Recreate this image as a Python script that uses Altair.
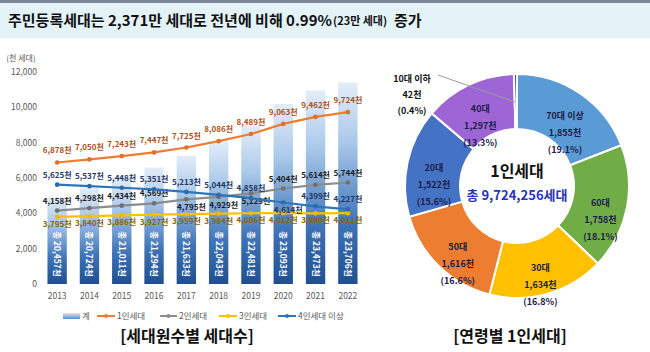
import altair as alt
import pandas as pd

FONT = "Noto Sans CJK KR"

# ---------------- data ----------------
years = ["2013", "2014", "2015", "2016", "2017", "2018", "2019", "2020", "2021", "2022"]
total_households = [20457, 20724, 21011, 21294, 21633, 22043, 22481, 23093, 23473, 23706]
one_person = [6878, 7050, 7243, 7447, 7725, 8086, 8489, 9063, 9462, 9724]
two_person = [4158, 4298, 4434, 4569, 4795, 4929, 5129, 5404, 5614, 5744]
three_person = [3795, 3840, 3886, 3927, 3959, 3984, 4006, 4012, 3999, 4011]
four_plus = [5625, 5537, 5448, 5351, 5213, 5044, 4858, 4614, 4399, 4227]
y_ticks = [0, 2000, 4000, 6000, 8000, 10000, 12000]
series_names = ["계", "1인세대", "2인세대", "3인세대", "4인세대 이상"]

age_groups = ["70대 이상", "60대", "30대", "50대", "20대", "40대", "10대 이하"]
age_values = [1855, 1758, 1634, 1616, 1522, 1297, 42]
age_pct = [19.1, 18.1, 16.8, 16.6, 15.6, 13.3, 0.4]
one_person_total = 9724256

# ---------------- layout / style ----------------
W, H = 650, 352
X0, X1 = 41, 364
YB, YT = 284, 72
CX, CY = 517, 186

ORANGE, GRAY, GOLD, BLUE = "#ED7D31", "#8C8C8C", "#FFC000", "#2E75B6"
age_colors = ["#5B9BD5", "#70AD47", "#FFC000", "#ED7D31", "#4472C4", "#9E66D4", "#3B4A63"]

bar_grad = alt.Gradient(
    gradient="linear",
    stops=[alt.GradientStop(color="#e3edf8", offset=0),
           alt.GradientStop(color="#a9c8ea", offset=0.3),
           alt.GradientStop(color="#3f74b8", offset=0.7),
           alt.GradientStop(color="#1f4f8f", offset=1)],
    x1=1, x2=1, y1=0, y2=1)
legend_grad = alt.Gradient(
    gradient="linear",
    stops=[alt.GradientStop(color="#dbe7f5", offset=0),
           alt.GradientStop(color="#5b8fcf", offset=1)],
    x1=1, x2=1, y1=0, y2=1)

xs = alt.Scale(domain=years, range=[X0, X1], paddingInner=0.4, paddingOuter=0.2)
ys = alt.Scale(domain=[0, 12000], range=[YB, YT])
ys_total = alt.Scale(domain=[18000, 24000], range=[YB, YT])

df = pd.DataFrame({
    "year": years, "total": total_households, "one": one_person,
    "two": two_person, "three": three_person, "four": four_plus,
})
for c in ["one", "two", "three", "four"]:
    df[c + "_label"] = [f"{v:,}천" for v in df[c]]
df["total_label"] = [f"총 {v:,}천" for v in df["total"]]
gap = df["two"] - df["four"]
df["two_below"] = gap.abs() < 450
df["four_below"] = (gap > 500) & (gap < 1000)

X = alt.X("year:N", scale=xs, axis=None)

layers = []

# title band
layers.append(alt.Chart().mark_rect(color="#e4f3f8").encode(
    x=alt.value(0), x2=alt.value(W), y=alt.value(3), y2=alt.value(38)))
layers.append(alt.Chart().mark_rect(color="#7b8794").encode(
    x=alt.value(0), x2=alt.value(W), y=alt.value(0), y2=alt.value(3)))
title_style = dict(font=FONT, fontWeight="bold", color="#111111", align="left", baseline="middle")
layers.append(alt.Chart().mark_text(fontSize=15, **title_style).encode(
    x=alt.value(8), y=alt.value(21), text=alt.value("주민등록세대는 2,371만 세대로 전년에 비해 0.99%")))
layers.append(alt.Chart().mark_text(fontSize=11, **title_style).encode(
    x=alt.value(333), y=alt.value(22), text=alt.value("(23만 세대)")))
layers.append(alt.Chart().mark_text(fontSize=15, **title_style).encode(
    x=alt.value(394), y=alt.value(21), text=alt.value("증가")))

# bars (total households, secondary hidden axis)
layers.append(alt.Chart(df).mark_bar(color=bar_grad).encode(
    x=X, y=alt.Y("total:Q", scale=ys_total, axis=None), y2=alt.datum(18000)))
layers.append(alt.Chart(df).mark_text(
    angle=90, font=FONT, fontWeight="bold", fontSize=8.5, color="white",
    align="center", baseline="middle").encode(
    x=X, y=alt.value(254), text="total_label:N"))

# y tick labels and unit
ytdf = pd.DataFrame({"v": y_ticks})
layers.append(alt.Chart(ytdf).mark_text(
    font=FONT, fontSize=8.5, color="#595959", align="right", baseline="middle").encode(
    x=alt.value(37), y=alt.Y("v:Q", scale=ys, axis=None), text=alt.Text("v:Q", format=",")))
layers.append(alt.Chart().mark_text(
    font=FONT, fontSize=8, color="#595959", align="center", baseline="middle").encode(
    x=alt.value(21), y=alt.value(59), text=alt.value("(천 세대)")))
# year labels
layers.append(alt.Chart(df).mark_text(
    font=FONT, fontSize=8.5, color="#595959", baseline="middle").encode(
    x=X, y=alt.value(296), text="year:N"))


def series(field, color, pcolor, lcolor, dy, sel=None):
    base = alt.Chart(df).encode(x=X, y=alt.Y(f"{field}:Q", scale=ys, axis=None))
    line = base.mark_line(color=color, strokeWidth=2.2,
                          point=alt.OverlayMarkDef(color=pcolor, size=22, filled=True, opacity=1))
    txt_style = dict(font=FONT, fontWeight="bold", fontSize=8, color=lcolor, baseline="middle")
    if sel is None:
        texts = [base.mark_text(dy=dy, **txt_style).encode(text=f"{field}_label:N")]
    else:
        texts = [
            base.transform_filter(f"!datum.{sel}").mark_text(dy=dy, **txt_style).encode(text=f"{field}_label:N"),
            base.transform_filter(f"datum.{sel}").mark_text(dy=-dy, dx=5, **txt_style).encode(text=f"{field}_label:N"),
        ]
    return [line] + texts


layers += series("three", GOLD, "#F5B800", "#8a6400", 8)
layers += series("two", GRAY, "#707070", "#1e1e1e", -9, sel="two_below")
layers += series("four", BLUE, "#2B6CAD", "#1F3864", -9, sel="four_below")
layers += series("one", ORANGE, "#E0702A", "#A9531C", -11)

# manual legend
leg_y = 316
leg_items = [(63, 80), (97, 115), (160, 177), (219, 237), (278, 296)]
leg_colors = [None, ORANGE, GRAY, GOLD, BLUE]
for (a, b), name, col in zip(leg_items, series_names, leg_colors):
    if col is None:
        layers.append(alt.Chart().mark_rect(color=legend_grad).encode(
            x=alt.value(a), x2=alt.value(b), y=alt.value(leg_y - 3), y2=alt.value(leg_y + 3)))
    else:
        layers.append(alt.Chart().mark_rule(color=col, strokeWidth=2).encode(
            x=alt.value(a), x2=alt.value(b), y=alt.value(leg_y)))
        layers.append(alt.Chart().mark_point(color=col, filled=True, size=16, opacity=1).encode(
            x=alt.value((a + b) / 2), y=alt.value(leg_y)))
    layers.append(alt.Chart().mark_text(
        font=FONT, fontSize=8.5, color="#595959", align="left", baseline="middle").encode(
        x=alt.value(b + 2), y=alt.value(leg_y), text=alt.value(name)))

layers.append(alt.Chart().mark_text(
    font=FONT, fontSize=16, fontWeight="bold", color="#111111", align="center", baseline="middle").encode(
    x=alt.value(187), y=alt.value(337), text=alt.value("[세대원수별  세대수]")))

# donut
adf = pd.DataFrame({"g": age_groups, "v": age_values, "p": age_pct, "i": list(range(len(age_groups)))})
adf["label"] = [f"{g}\n{v:,}천\n({p}%)" if g != "10대 이하" else ""
                for g, v, p in zip(age_groups, age_values, age_pct)]
abase = alt.Chart(adf).encode(
    theta=alt.Theta("v:Q", stack=True),
    order=alt.Order("i:Q"),
    x=alt.value(CX), y=alt.value(CY))
layers.append(abase.mark_arc(innerRadius=57, outerRadius=112, stroke="white", strokeWidth=2).encode(
    color=alt.Color("g:N", scale=alt.Scale(domain=age_groups, range=age_colors), legend=None)))
layers.append(abase.mark_text(
    radius=85, font=FONT, fontWeight="bold", fontSize=9, color="#1c1c4a",
    lineBreak="\n", lineHeight=17, align="center", baseline="middle").encode(text="label:N"))

# label for the thin slice
small = f"{age_groups[6]}\n{age_values[6]}천\n({age_pct[6]}%)"
layers.append(alt.Chart().mark_rule(color="#9a9a9a", strokeWidth=1).encode(
    x=alt.value(438), x2=alt.value(515), y=alt.value(75), y2=alt.value(102)))
layers.append(alt.Chart().mark_text(
    font=FONT, fontWeight="bold", fontSize=9, color="#111111", lineBreak="\n", lineHeight=16,
    align="center", baseline="middle").encode(
    x=alt.value(412), y=alt.value(79), text=alt.value(small)))

# center text
layers.append(alt.Chart().mark_text(
    font=FONT, fontWeight="bold", fontSize=16, color="#111111", align="center", baseline="middle").encode(
    x=alt.value(CX), y=alt.value(172), text=alt.value("1인세대")))
layers.append(alt.Chart().mark_text(
    font=FONT, fontWeight="bold", fontSize=13, color="#2634B8", align="center", baseline="middle").encode(
    x=alt.value(CX), y=alt.value(196), text=alt.value(f"총 {one_person_total:,}세대")))

layers.append(alt.Chart().mark_text(
    font=FONT, fontSize=16, fontWeight="bold", color="#111111", align="center", baseline="middle").encode(
    x=alt.value(510), y=alt.value(337), text=alt.value("[연령별  1인세대]")))

chart = alt.layer(*layers).resolve_scale(
    x="independent", y="independent", theta="independent", color="independent"
).properties(
    width=W, height=H, autosize=alt.AutoSizeParams(type="none"), padding=0, background="white"
).configure_view(stroke=None)

chart.save("out.html", embed_options={"renderer": "svg", "actions": False})
